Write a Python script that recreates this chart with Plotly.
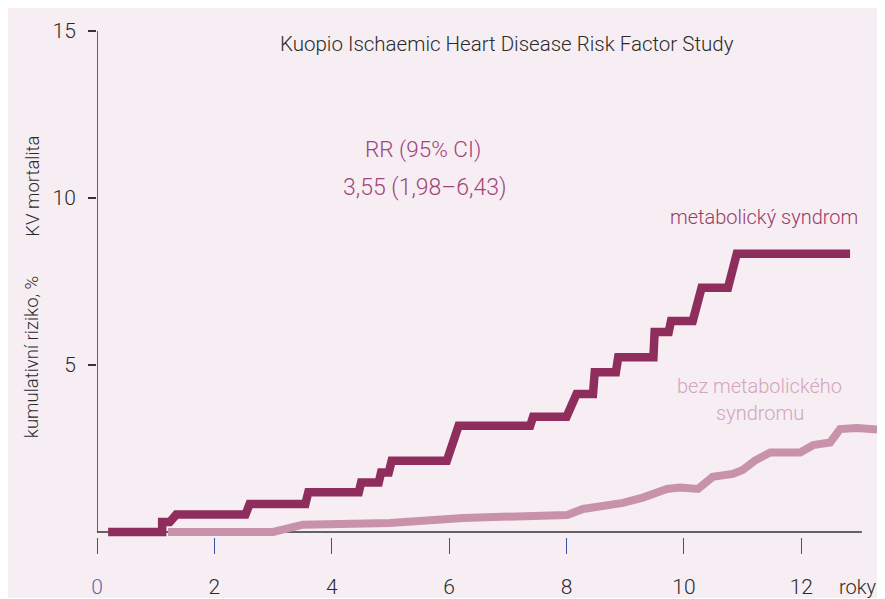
import plotly.graph_objects as go

# Cumulative CV mortality (%) by follow-up year
years_ms = [0.19, 1.11, 1.11, 1.24, 1.35, 2.53, 2.6, 3.55, 3.6, 4.46, 4.5, 4.8, 4.84,
            4.97, 5.02, 5.96, 6.16, 7.38, 7.43, 8.0, 8.17, 8.45, 8.48, 8.84, 8.88,
            9.48, 9.5, 9.74, 9.78, 10.15, 10.3, 10.75, 10.9, 12.83]
risk_ms = [0, 0, 0.3, 0.3, 0.52, 0.52, 0.84, 0.84, 1.19, 1.19, 1.48, 1.48, 1.78,
           1.78, 2.13, 2.13, 3.18, 3.18, 3.45, 3.45, 4.13, 4.13, 4.78, 4.78, 5.23,
           5.23, 5.99, 5.99, 6.32, 6.32, 7.31, 7.31, 8.33, 8.33]

years_no = [1.21, 3.0, 3.51, 4.0, 4.31, 4.99, 6.24, 6.98, 7.33, 8.01, 8.28, 8.57,
            8.96, 9.30, 9.71, 9.93, 10.24, 10.49, 10.83, 11.0, 11.21, 11.47, 11.98,
            12.2, 12.49, 12.66, 12.95, 13.29]
risk_no = [0, 0, 0.22, 0.24, 0.25, 0.27, 0.42, 0.46, 0.52, 0.51, 0.69, 0.77,
           0.87, 1.03, 1.29, 1.33, 1.29, 1.65, 1.74, 1.86, 2.14, 2.38, 2.38,
           2.6, 2.68, 3.08, 3.11, 3.07]

x_ticks = [0, 2, 4, 6, 8, 10, 12]
y_ticks = [5, 10, 15]

BG = "#F6EEF3"
DARK = "#8F2E5C"
LIGHT = "#C892AB"
AXIS = "#333333"
BLUE = "#3A4FA0"
FONT = "Roboto"

fig = go.Figure()

fig.add_trace(go.Scatter(x=years_no, y=risk_no, mode="lines",
                         line=dict(color=LIGHT, width=8), hoverinfo="skip"))
fig.add_trace(go.Scatter(x=years_ms, y=risk_ms, mode="lines",
                         line=dict(color=DARK, width=8.5), hoverinfo="skip"))

# axis lines (the x axis stops short of the plotting area's right edge)
fig.add_shape(type="line", x0=0, x1=0, y0=0, y1=15,
              line=dict(color=AXIS, width=1.5), layer="below")
fig.add_shape(type="line", x0=0, x1=13.03, y0=0, y1=0,
              line=dict(color=AXIS, width=1.5), layer="below")

tick_text = [f"<span style='color:#5B6BB0'>{v}</span>" if v == 0 else str(v) for v in x_ticks]

fig.update_xaxes(range=[0, 13.34], showgrid=False, zeroline=False, showline=False,
                 automargin=False,
                 tickvals=x_ticks, ticktext=tick_text, ticks="outside", ticklen=16,
                 tickwidth=1.3, tickcolor=BLUE, ticklabelstandoff=15,
                 tickfont=dict(size=21, color="#2a2a2a", family=FONT, weight=300))
fig.update_yaxes(range=[-0.15, 15], showgrid=False, zeroline=False, showline=False,
                 automargin=False,
                 tickvals=y_ticks, ticks="outside", ticklen=8, tickwidth=1.5,
                 tickcolor=AXIS, ticklabelstandoff=8,
                 tickfont=dict(size=21, color="#2a2a2a", family=FONT, weight=300))

def note(text, x, y, color, size=20, xref="x", yref="y", **kw):
    fig.add_annotation(text=text, x=x, y=y, xref=xref, yref=yref, showarrow=False,
                       xanchor="center", yanchor="middle",
                       font=dict(size=size, color=color, family=FONT, weight=300), **kw)

note("Kuopio Ischaemic Heart Disease Risk Factor Study", 6.98, 14.62, "#2a2a2a", size=20.5)
note("RR (95% CI)", 5.55, 11.44, "#A0467A", size=22.5)
note("3,55 (1,98–6,43)", 5.59, 10.31, "#A0467A", size=23)
note("metabolický syndrom", 11.36, 9.44, "#9A3A68")
note("bez metabolického", 11.29, 4.37, "#D3A5BB")
note("syndromu", 11.29, 3.56, "#D3A5BB")
# labels outside the plotting area (paper coordinates)
note("roky", 0.972, -0.099, "#2a2a2a", size=20, xref="paper", yref="paper")
note("kumulativní riziko, %", -0.082, 0.355, "#2a2a2a", size=18.5,
     xref="paper", yref="paper", textangle=-90)
note("KV mortalita", -0.082, 0.694, "#2a2a2a", size=18.5,
     xref="paper", yref="paper", textangle=-90)

fig.update_layout(width=877, height=590, showlegend=False,
                  margin=dict(l=89, r=5, t=23, b=61, autoexpand=False),
                  paper_bgcolor=BG, plot_bgcolor=BG)

fig.write_html("out.html")
